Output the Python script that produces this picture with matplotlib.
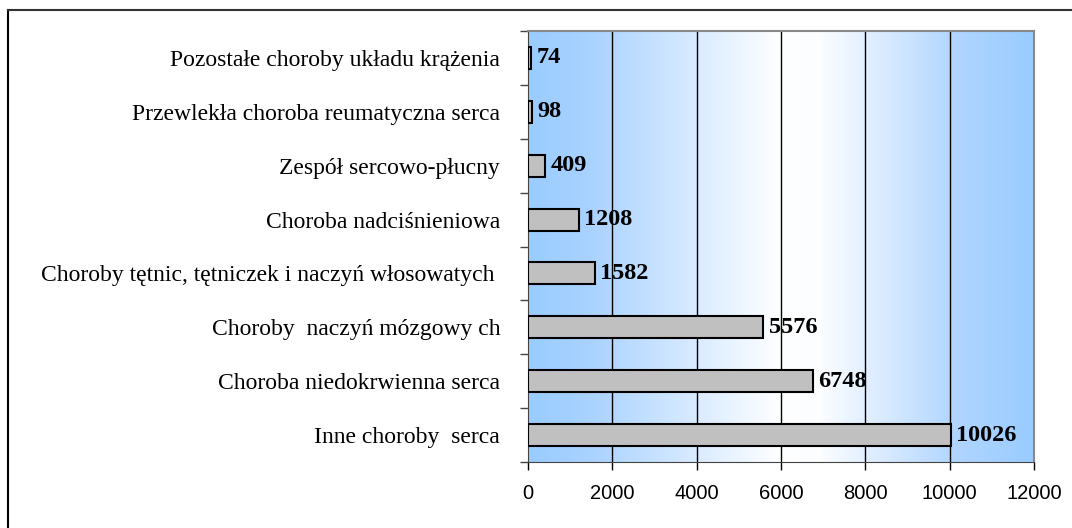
import numpy as np
import matplotlib.pyplot as plt
from matplotlib.colors import LinearSegmentedColormap
from matplotlib.lines import Line2D

categories = [
    "Inne choroby  serca",
    "Choroba niedokrwienna serca",
    "Choroby  naczyń mózgowy ch",
    "Choroby tętnic, tętniczek i naczyń włosowatych ",
    "Choroba nadciśnieniowa",
    "Zespół sercowo-płucny",
    "Przewlekła choroba reumatyczna serca",
    "Pozostałe choroby układu krążenia",
]
values = [10026, 6748, 5576, 1582, 1208, 409, 98, 74]
xticks = [0, 2000, 4000, 6000, 8000, 10000, 12000]

fig = plt.figure(figsize=(10.72, 5.28), dpi=100)
ax = fig.add_axes([528 / 1072, 1 - 462 / 528, 506 / 1072, 431 / 528])

# background gradient: blue at both edges, white in the middle
cmap = LinearSegmentedColormap.from_list(
    "bg", [(0.0, "#99ccff"), (0.12, "#a9d2ff"), (0.5, "#ffffff"),
           (0.58, "#fbfdff"), (0.85, "#b0d5ff"), (1.0, "#99ccff")])
grad = np.linspace(0, 1, 512).reshape(1, -1)
ax.imshow(grad, cmap=cmap, aspect="auto", extent=[0, 12000, -0.5, len(values) - 0.5],
          zorder=0)

y = np.arange(len(values))
ax.barh(y, values, height=0.41, color="#c0c0c0", edgecolor="black", linewidth=1.5, zorder=3)

for xi in xticks[1:-1]:
    ax.axvline(xi, color="black", linewidth=1, zorder=1)

for yi, v in zip(y, values):
    ax.text(v + 130, yi, str(v), va="center", ha="left", fontsize=17.5,
            fontweight="bold", family="Liberation Serif", zorder=4)

ax.set_xlim(0, 12000)
ax.set_ylim(-0.5, len(values) - 0.5)
ax.set_xticks(xticks)
ax.set_xticklabels([str(t) for t in xticks], family="Liberation Sans", fontsize=14.5)
ax.set_yticks(y)
ax.set_yticklabels(categories, family="Liberation Serif", fontsize=17)
ax.tick_params(axis="y", length=0, pad=20)
ax.set_yticks(np.arange(-0.5, len(values)), minor=True)
ax.tick_params(axis="y", which="minor", length=6, width=1, color="#444444")
ax.tick_params(axis="x", length=6, width=1, pad=10)

for side in ["top", "right"]:
    ax.spines[side].set_color("#888888")
    ax.spines[side].set_linewidth(1.5)
ax.spines["left"].set_color("#444444")
ax.spines["bottom"].set_color("#444444")

# outer chart border (left and top visible)
fig.add_artist(Line2D([8 / 1072, 8 / 1072], [0, 1 - 10 / 528], color="black", linewidth=1.5))
fig.add_artist(Line2D([8 / 1072, 1], [1 - 10 / 528, 1 - 10 / 528], color="#333333", linewidth=1.5))

fig.savefig("out.png", dpi=100)
